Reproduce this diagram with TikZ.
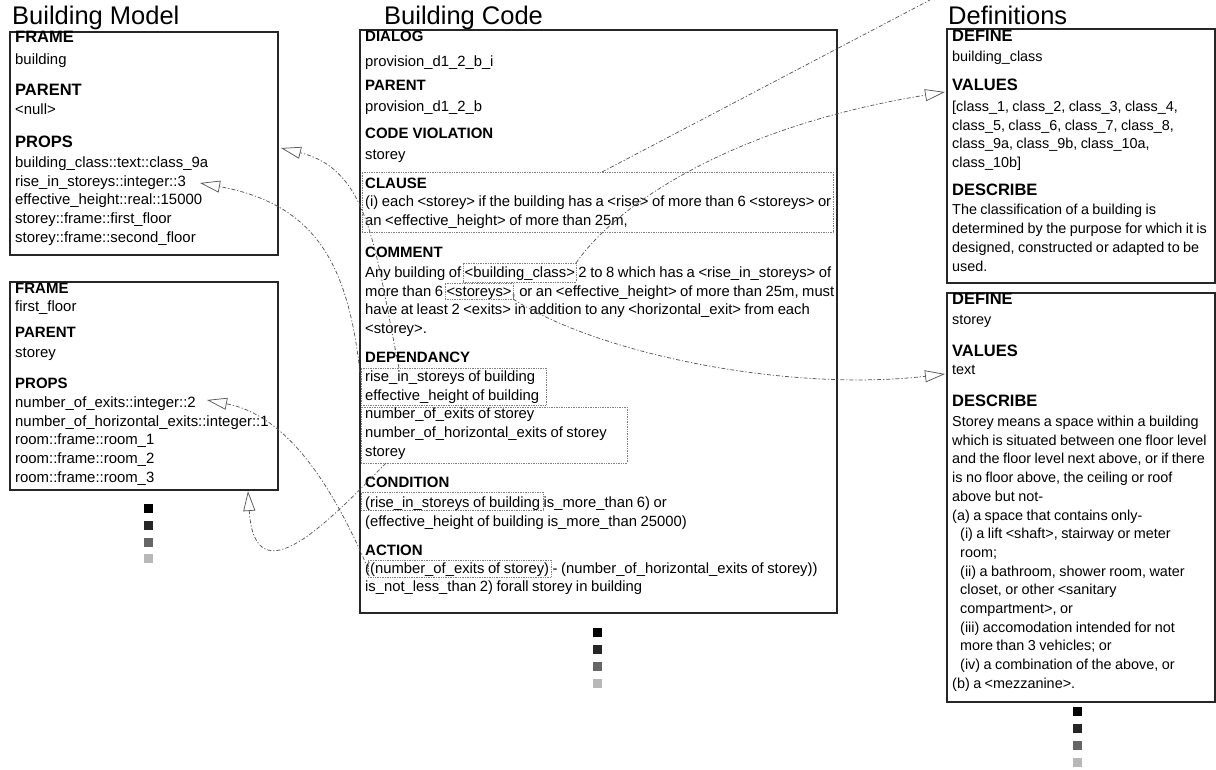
\documentclass[tikz,border=0pt]{standalone}
\usepackage{fontspec}
\setmainfont{Liberation Sans}
\usetikzlibrary{arrows.meta,calc}
\begin{document}
\begin{tikzpicture}[x=1pt,y=-1pt,
 frm/.style={draw=black!85, line width=1.1pt, inner sep=0pt, outer sep=0pt, anchor=north west},
 dbox/.style={draw=black!50, densely dotted, line width=0.7pt, inner sep=0pt, outer sep=0pt, anchor=north west},
 hd/.style={font=\fontsize{15}{18}\selectfont\bfseries, anchor=base west, inner sep=0pt},
 hdb/.style={font=\fontsize{16.5}{19}\selectfont\bfseries, anchor=base west, inner sep=0pt},
 bd/.style={font=\fontsize{14.8}{18.7}\selectfont, anchor=base west, inner sep=0pt, text width=490pt,
   execute at begin node={\spaceskip=0.24em\xspaceskip=0.3em\relax}},
 bdl/.style={bd, font=\fontsize{14.9}{18.7}\selectfont},
 bdr/.style={bd, font=\fontsize{14.4}{19}\selectfont},
 bdq/.style={bd, font=\fontsize{14.4}{18.7}\selectfont},
 ttl/.style={font=\fontsize{25.5}{30}\selectfont, anchor=base west, inner sep=0pt},
 conn/.style={draw=black!65, line width=0.75pt, dash pattern=on 4pt off 2pt on 1.2pt off 2pt},
 tip/.style={-{Triangle[open,length=20pt,width=12pt]}},
 sq/.style={minimum size=9pt, inner sep=0pt, draw=none},
]
\useasboundingbox (0,0) rectangle (1216,770);

% ---------- titles ----------
\node[ttl] (t1) at (12,25) {Building Model};
\node[ttl] (t2) at (384,25) {Building Code};
\node[ttl] (t3) at (948,25) {Definitions};

% ---------- left box 1 ----------
\node[frm, minimum width=268pt, minimum height=223pt] (lb1) at (10,32) {};
\node[hdb] (lb1h1) at (15,43) {FRAME};
\node[bdl] (lb1v1) at (15,64.5) {building};
\node[hdb] (lb1h2) at (15,96) {PARENT};
\node[bdl] (lb1v2) at (15,114.5) {<null>};
\node[hdb] (lb1h3) at (15,148) {PROPS};
\node[bdl] (lb1v3) at (15,167.5) {building\_class::text::class\_9a\\rise\_in\_storeys::integer::3\\effective\_height::real::15000\\storey::frame::first\_floor\\storey::frame::second\_floor};

% ---------- left box 2 ----------
\node[frm, minimum width=268pt, minimum height=208pt] (lb2) at (10,282) {};
\node[hd] (lb2h1) at (15,293.5) {FRAME};
\node[bdl] (lb2v1) at (15,311.5) {first\_floor};
\node[hd] (lb2h2) at (15,337.5) {PARENT};
\node[bdl] (lb2v2) at (15,357.5) {storey};
\node[hd] (lb2h3) at (15,388.5) {PROPS};
\node[bdl] (lb2v3) at (15,407.5) {number\_of\_exits::integer::2\\number\_of\_horizontal\_exits::integer::1\\room::frame::room\_1\\room::frame::room\_2\\room::frame::room\_3};

\node[sq, fill=black] (sl1) at (148,508) {};
\node[sq, fill=black!85] (sl2) at (148,525) {};
\node[sq, fill=black!60] (sl3) at (148,542) {};
\node[sq, fill=black!28] (sl4) at (148,558) {};

% ---------- middle box ----------
\node[frm, minimum width=477pt, minimum height=583pt] (mb) at (360,30) {};
\node[hd] (mh1) at (365,41.5) {DIALOG};
\node[bd] (mv1) at (365,66.5) {provision\_d1\_2\_b\_i};
\node[hd] (mh2) at (365,90.5) {PARENT};
\node[bd] (mv2) at (365,111.5) {provision\_d1\_2\_b};
\node[hd] (mh3) at (365,138.5) {CODE VIOLATION};
\node[bd] (mv3) at (365,159.5) {storey};
\node[hd] (mh4) at (365,188.5) {CLAUSE};
\node[bd] (mv4) at (365,206.5) {(i) each <storey> if the building has a <rise> of more than 6 <storeys> or\\an <effective\_height> of more than 25m,};
\node[hd] (mh5) at (365,257.5) {COMMENT};
\node[bd] (mv5) at (365,277.5) {Any building of <building\_class> 2 to 8 which has a <rise\_in\_storeys> of\\more than 6 <storeys>, or an <effective\_height> of more than 25m, must\\have at least 2 <exits> in addition to any <horizontal\_exit> from each\\<storey>.};
\node[hd] (mh6) at (365,362) {DEPENDANCY};
\node[bd] (mv6) at (365,381.5) {rise\_in\_storeys of building\\effective\_height of building\\number\_of\_exits of storey\\number\_of\_horizontal\_exits of storey\\storey};
\node[hd] (mh7) at (365,487.5) {CONDITION};
\node[bd] (mv7) at (365,507.5) {(rise\_in\_storeys of building is\_more\_than 6) or\\(effective\_height of building is\_more\_than 25000)};
\node[hd] (mh8) at (365,555) {ACTION};
\node[bd] (mv8) at (365,573) {((number\_of\_exits of storey) - (number\_of\_horizontal\_exits of storey))\\is\_not\_less\_than 2) forall storey in building};

\node[dbox, minimum width=471pt, minimum height=60pt] (cl) at (362,172) {};
\node[dbox, minimum width=113pt, minimum height=19pt] (bc) at (463,263) {};
\node[dbox, minimum width=68pt, minimum height=16pt] (sty) at (445,283) {};
\node[dbox, minimum width=185pt, minimum height=37pt] (dep1) at (361,368) {};
\node[dbox, minimum width=266pt, minimum height=56pt] (dep2) at (361,407) {};
\node[dbox, minimum width=182pt, minimum height=18pt] (cnd) at (361,492) {};
\node[dbox, minimum width=183pt, minimum height=17pt] (act) at (368,560) {};

\node[sq, fill=black] (sm1) at (597,632) {};
\node[sq, fill=black!85] (sm2) at (597,649) {};
\node[sq, fill=black!60] (sm3) at (597,666) {};
\node[sq, fill=black!28] (sm4) at (597,683) {};

% ---------- right box 1 ----------
\node[frm, minimum width=268pt, minimum height=254pt] (rb1) at (947,29) {};
\node[hdb] (r1h1) at (952,42) {DEFINE};
\node[bdq] (r1v1) at (952,61.5) {building\_class};
\node[hdb] (r1h2) at (952,90.5) {VALUES};
\node[bdq] (r1v2) at (952,111.5) {{[}class\_1, class\_2, class\_3, class\_4,\\class\_5, class\_6, class\_7, class\_8,\\class\_9a, class\_9b, class\_10a,\\class\_10b{]}};
\node[hdb] (r1h3) at (952,195.5) {DESCRIBE};
\node[bdr] (r1v3) at (952,214.5) {The classification of a building is\\determined by the purpose for which it is\\designed, constructed or adapted to be\\used.};

% ---------- right box 2 ----------
\node[frm, minimum width=268pt, minimum height=409pt] (rb2) at (947,293) {};
\node[hdb] (r2h1) at (952,305) {DEFINE};
\node[bdq] (r2v1) at (952,324.5) {storey};
\node[hdb] (r2h2) at (952,356) {VALUES};
\node[bdq] (r2v2) at (952,374.5) {text};
\node[hdb] (r2h3) at (952,406) {DESCRIBE};
\node[bdq] (r2v3) at (952,426.5) {Storey means a space within a building\\which is situated between one floor level\\and the floor level next above, or if there\\is no floor above, the ceiling or roof\\above but not-\\(a) a space that contains only-\\\hspace*{8pt}(i) a lift <shaft>, stairway or meter\\\hspace*{8pt}room;\\\hspace*{8pt}(ii) a bathroom, shower room, water\\\hspace*{8pt}closet, or other <sanitary\\\hspace*{8pt}compartment>, or\\\hspace*{8pt}(iii) accomodation intended for not\\\hspace*{8pt}more than 3 vehicles; or\\\hspace*{8pt}(iv) a combination of the above, or\\(b) a <mezzanine>.};

\node[sq, fill=black] (sr1) at (1077,711) {};
\node[sq, fill=black!85] (sr2) at (1077,728) {};
\node[sq, fill=black!60] (sr3) at (1077,745) {};
\node[sq, fill=black!28] (sr4) at (1077,762) {};

% ---------- connectors ----------
\coordinate (c1e) at (930,0);
\draw[conn] ($(cl.north west)+(240,0)$) -- (c1e);
\draw[conn,tip] (bc.north east) .. controls (620,200) and (740,125) .. ($(rb1.north west)+(-2,63)$);
\draw[conn,tip] (sty.south east) .. controls (600,355) and (790,392) .. ($(rb2.north west)+(-2,81)$);
\draw[conn,tip] ($(dep1.north west)+(38,0)$) .. controls (375,250) and (370,170) .. ($(lb1.north east)+(3,116)$);
\draw[conn,tip] ($(dep1.north west)+(0,14)$) .. controls (350,270) and (320,205) .. ($(lb1.north west)+(190,151)$);
\draw[conn,tip] (act.west) .. controls (330,480) and (285,415) .. ($(lb2.north west)+(197,118)$);
\draw[conn,tip] ($(dep2.south west)+(25,0)$) .. controls (330,520) and (255,600) .. ($(lb2.south west)+(238,1)$);
\end{tikzpicture}
\end{document}
